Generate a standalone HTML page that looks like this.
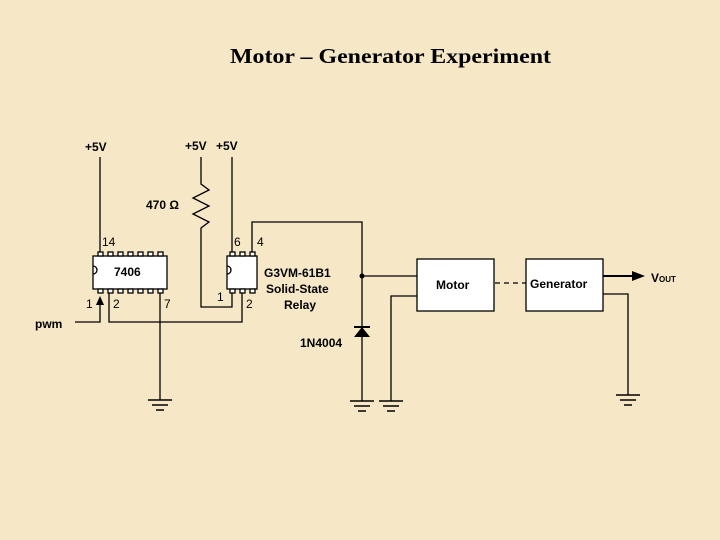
<!DOCTYPE html>
<html><head><style>
body{margin:0;width:720px;height:540px;background:#f6e8c6;overflow:hidden}
svg{position:absolute;left:0;top:0}
</style></head><body>
<svg width="720" height="540" xmlns="http://www.w3.org/2000/svg" font-family="Liberation Sans, Arial, sans-serif">
<rect width="720" height="540" fill="#f6e8c6"/>
<text x="230" y="63" textLength="321" lengthAdjust="spacingAndGlyphs" font-family="Liberation Serif, serif" font-weight="bold" font-size="21">Motor – Generator Experiment</text>
<g stroke="#000" stroke-width="1.3" fill="none">
<line x1="100" y1="157" x2="100" y2="253"/>
<rect x="93" y="256" width="74" height="33" fill="#fff"/>
<path d="M93 266 a4 4 0 0 1 0 8"/>
<g fill="#fff">
<rect x="98" y="252" width="5" height="4"/><rect x="108" y="252" width="5" height="4"/><rect x="118" y="252" width="5" height="4"/><rect x="128" y="252" width="5" height="4"/><rect x="138" y="252" width="5" height="4"/><rect x="148" y="252" width="5" height="4"/><rect x="158" y="252" width="5" height="4"/>
<rect x="98" y="289" width="5" height="4"/><rect x="108" y="289" width="5" height="4"/><rect x="118" y="289" width="5" height="4"/><rect x="128" y="289" width="5" height="4"/><rect x="138" y="289" width="5" height="4"/><rect x="148" y="289" width="5" height="4"/><rect x="158" y="289" width="5" height="4"/>
</g>
<polyline points="75,322 100,322 100,298"/>
<polyline points="109,293 109,322 242,322 242,293"/>
<polyline points="160,293 160,400"/>
<polyline points="201,157 201,184 209,190 193,198 209,206 193,214 209,222 201,228 201,307 232,307 232,293"/>
<line x1="232" y1="157" x2="232" y2="252"/>
<rect x="227" y="256" width="30" height="33" fill="#fff"/>
<path d="M227 266 a4 4 0 0 1 0 8"/>
<g fill="#fff">
<rect x="230" y="252" width="5" height="4"/><rect x="240" y="252" width="5" height="4"/><rect x="250" y="252" width="5" height="4"/>
<rect x="230" y="289" width="5" height="4"/><rect x="240" y="289" width="5" height="4"/><rect x="250" y="289" width="5" height="4"/>
</g>
<polyline points="252,252 252,222 362,222 362,401"/>
<line x1="362" y1="276" x2="417" y2="276"/>
<polyline points="391,401 391,296 417,296"/>
<rect x="417" y="259" width="77" height="52" fill="#fff"/>
<rect x="526" y="259" width="77" height="52" fill="#fff"/>
<line x1="495" y1="283" x2="526" y2="283" stroke-dasharray="5,4"/>
<line x1="603" y1="276" x2="632" y2="276" stroke-width="2"/>
<polyline points="603,294 628,294 628,395"/>
<g stroke-width="1.5">
<line x1="148" y1="400" x2="172" y2="400"/><line x1="152" y1="405" x2="168" y2="405"/><line x1="156" y1="410" x2="164" y2="410"/>
<line x1="350" y1="401" x2="374" y2="401"/><line x1="354" y1="406" x2="370" y2="406"/><line x1="358" y1="411" x2="366" y2="411"/>
<line x1="379" y1="401" x2="403" y2="401"/><line x1="383" y1="406" x2="399" y2="406"/><line x1="387" y1="411" x2="395" y2="411"/>
<line x1="616" y1="395" x2="640" y2="395"/><line x1="620" y1="400" x2="636" y2="400"/><line x1="624" y1="405" x2="632" y2="405"/>
</g>
<line x1="354" y1="327" x2="370" y2="327" stroke-width="2"/>
</g>
<circle cx="362" cy="276" r="2.5"/>
<polygon points="362,327 354,337 370,337"/>
<polygon points="100,296 96,305 104,305"/>
<polygon points="632,271 645,276 632,281"/>
<g font-size="12" font-weight="bold">
<text x="85" y="151">+5V</text>
<text x="185" y="150">+5V</text><text x="216" y="150">+5V</text>
<text x="146" y="209">470 Ω</text>
<text x="114" y="276">7406</text>
<text x="264" y="277">G3VM-61B1</text>
<text x="266" y="293">Solid-State</text>
<text x="284" y="309">Relay</text>
<text x="300" y="347">1N4004</text>
<text x="35" y="328">pwm</text>
<text x="436" y="289">Motor</text>
<text x="530" y="288">Generator</text>
<text x="651" y="282">V<tspan font-size="8">OUT</tspan></text>
</g>
<g font-size="12">
<text x="102" y="246">14</text><text x="234" y="246">6</text><text x="257" y="246">4</text>
<text x="86" y="308">1</text><text x="113" y="308">2</text><text x="164" y="308">7</text>
<text x="217" y="301">1</text><text x="246" y="308">2</text>
</g>
</svg>
</body></html>
